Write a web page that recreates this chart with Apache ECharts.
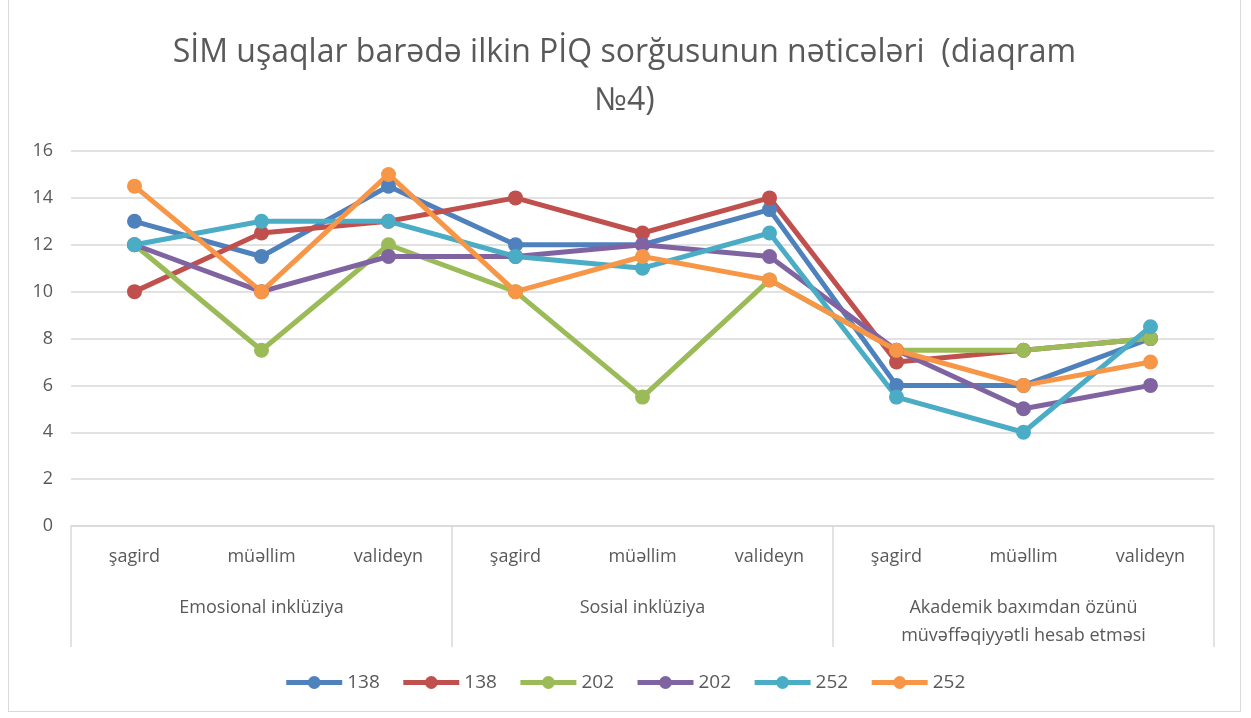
<!DOCTYPE html>
<html>
<head>
<meta charset="utf-8">
<script src="https://cdn.jsdelivr.net/npm/echarts@6/dist/echarts.min.js"></script>
<style>
  html, body { margin: 0; padding: 0; background: #fff; }
  #chart { position: absolute; left: 8px; top: 0; width: 1233px; height: 712px; box-sizing: border-box; border: 1px solid #d9d9d9; border-top: none; }
</style>
</head>
<body>
<div id="chart"></div>
<script>
const subCategories = ['şagird', 'müəllim', 'valideyn', 'şagird', 'müəllim', 'valideyn', 'şagird', 'müəllim', 'valideyn'];
const groupCategories = ['Emosional inklüziya', 'Sosial inklüziya', 'Akademik baxımdan özünü\nmüvəffəqiyyətli hesab etməsi'];
const seriesNames = ['138', '138', '202', '202', '252', '252'];
const blue138 = [13, 11.5, 14.5, 12, 12, 13.5, 6, 6, 8];
const red138 = [10, 12.5, 13, 14, 12.5, 14, 7, 7.5, 8];
const green202 = [12, 7.5, 12, 10, 5.5, 10.5, 7.5, 7.5, 8];
const purple202 = [12, 10, 11.5, 11.5, 12, 11.5, 7.5, 5, 6];
const cyan252 = [12, 13, 13, 11.5, 11, 12.5, 5.5, 4, 8.5];
const orange252 = [14.5, 10, 15, 10, 11.5, 10.5, 7.5, 6, 7];
const colors = ['#4F81BD', '#C0504D', '#9BBB59', '#8064A2', '#4BACC6', '#F79646'];

const chart = echarts.init(document.getElementById('chart'), null, { renderer: 'canvas' });
const font = 'Open Sans';
const values = [blue138, red138, green202, purple202, cyan252, orange252];

chart.setOption({
  animation: false,
  color: colors,
  title: {
    text: 'SİM uşaqlar barədə ilkin PİQ sorğusunun nəticələri  (diaqram\n№4)',
    left: 'center',
    top: 24,
    textStyle: { color: '#595959', fontSize: 32, fontWeight: 'normal', fontFamily: font, lineHeight: 48 },
  },
  legend: {
    bottom: 14,
    left: 'center',
    itemWidth: 56,
    itemHeight: 16,
    itemGap: 21,
    lineStyle: { width: 5 },
    textStyle: { color: '#595959', fontSize: 19, fontFamily: font },
    data: seriesNames.map((n, i) => ({ name: n + '#' + i })),
    formatter: (name) => name.split('#')[0],
  },
  grid: { left: 62, right: 26, top: 151, bottom: 185 },
  xAxis: [
    {
      type: 'category',
      data: subCategories,
      boundaryGap: true,
      axisLine: { lineStyle: { color: '#d9d9d9', width: 1.5 } },
      axisTick: { show: false },
      axisLabel: { color: '#595959', fontSize: 18, fontFamily: font, margin: 22 },
    },
    {
      type: 'category',
      data: groupCategories,
      position: 'bottom',
      boundaryGap: true,
      axisLine: { show: false },
      axisTick: { show: true, length: 121, lineStyle: { color: '#d9d9d9', width: 1.5 } },
      axisLabel: { color: '#595959', fontSize: 18, fontFamily: font, margin: 68, lineHeight: 28, verticalAlign: 'top' },
    },
  ],
  yAxis: {
    type: 'value',
    min: 0,
    max: 16,
    interval: 2,
    axisLabel: { color: '#595959', fontSize: 18, fontFamily: font, margin: 18 },
    axisLine: { show: false },
    axisTick: { show: false },
    splitLine: { lineStyle: { color: '#d9d9d9', width: 1.5 } },
  },
  series: values.map((data, i) => ({
    name: seriesNames[i] + '#' + i,
    type: 'line',
    data,
    symbol: 'circle',
    symbolSize: 15,
    lineStyle: { width: 5 },
    itemStyle: { color: colors[i] },
  })),
});
</script>
</body>
</html>
